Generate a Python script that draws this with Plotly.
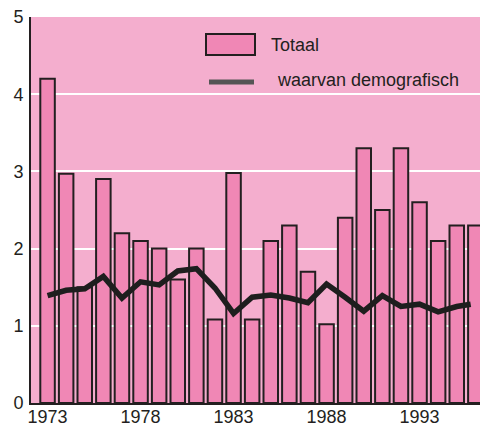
import plotly.graph_objects as go

years = list(range(1973, 1997))
totaal = [4.2, 2.97, 1.5, 2.9, 2.2, 2.1, 2.0, 1.6, 2.0, 1.08, 2.98, 1.08,
          2.1, 2.3, 1.7, 1.02, 2.4, 3.3, 2.5, 3.3, 2.6, 2.1, 2.3, 2.3]
demografisch = [1.39, 1.46, 1.48, 1.64, 1.36, 1.57, 1.53, 1.71, 1.74, 1.49, 1.16, 1.37,
                1.40, 1.36, 1.30, 1.54, 1.37, 1.19, 1.39, 1.25, 1.28, 1.18, 1.25, 1.28]
x_ticks = [1973, 1978, 1983, 1988, 1993]
y_ticks = [0, 1, 2, 3, 4, 5]
legend_labels = ["Totaal", "waarvan demografisch"]

BG = "#F4AECE"
BAR = "#F087B5"
DARK = "#231F20"
FONT = "Liberation Sans, Arial, sans-serif"

fig = go.Figure()
fig.add_trace(go.Bar(
    x=years, y=totaal, width=0.78,
    marker=dict(color=BAR, line=dict(color=DARK, width=2)),
    showlegend=False, hoverinfo="skip",
))
fig.add_trace(go.Scatter(
    x=years[:-1] + [years[-1] - 0.25], y=demografisch, mode="lines",
    line=dict(color="#1E1E1E", width=5.5),
    showlegend=False, hoverinfo="skip",
))

# custom legend (large symbols as in the reference)
fig.add_shape(type="rect", xref="paper", yref="paper",
              x0=(206 - 31) / 449, x1=(255 - 31) / 449,
              y0=(403 - 55) / 386, y1=(403 - 34) / 386,
              fillcolor=BAR, line=dict(color=DARK, width=2))
fig.add_shape(type="line", xref="paper", yref="paper",
              x0=(209 - 31) / 449, x1=(254 - 31) / 449,
              y0=(403 - 82) / 386, y1=(403 - 82) / 386,
              line=dict(color="#555555", width=5))
fig.add_annotation(xref="paper", yref="paper", x=(269 - 31) / 449, y=(403 - 45) / 386,
                   text=legend_labels[0], showarrow=False, xanchor="left", yanchor="middle",
                   font=dict(size=18, color=DARK, family=FONT))
fig.add_annotation(xref="paper", yref="paper", x=(275 - 31) / 449, y=(403 - 80) / 386,
                   text=legend_labels[1], showarrow=False, xanchor="left", yanchor="middle",
                   font=dict(size=18, color=DARK, family=FONT))

fig.update_layout(
    width=480, height=427,
    margin=dict(l=31, r=0, t=17, b=24, autoexpand=False),
    paper_bgcolor="white", plot_bgcolor=BG,
    font=dict(family=FONT, size=18, color=DARK),
    bargap=0.2,
)
fig.update_xaxes(range=[1972.11, 1996.25], tickvals=x_ticks, ticktext=[str(v) for v in x_ticks],
                 showgrid=False, showline=True, linecolor=DARK, linewidth=2,
                 ticks="", ticklen=0, zeroline=False, tickfont=dict(size=18),
                 automargin=False, ticklabelstandoff=-4)
fig.update_yaxes(range=[0, 5], tickvals=y_ticks, showgrid=True, gridcolor="white", gridwidth=2,
                 showline=True, linecolor=DARK, linewidth=2, ticks="", zeroline=False,
                 tickfont=dict(size=18), ticklabelstandoff=2, automargin=False)

fig.write_html("out.html", config={"displayModeBar": False},
               post_script="document.body.style.margin='0px';")
